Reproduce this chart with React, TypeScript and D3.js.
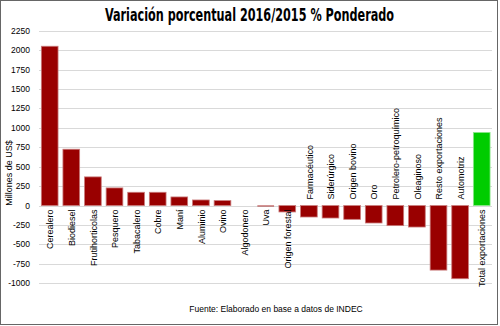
import React from "react";
import * as d3 from "d3";

const categories = [
  "Cerealero", "Biodiesel", "Frutihorticolas", "Pesquero", "Tabacalero", "Cobre", "Maní",
  "Aluminio", "Ovino", "Algodonero", "Uva", "Origen forestal", "Farmacéutico", "Siderúrgico",
  "Origen bovino", "Oro", "Petrolero-petroquímico", "Oleaginoso", "Resto exportaciones",
  "Automotriz", "Total exportaciones",
];
const values = [
  2050, 725, 369, 227, 171, 171, 111, 72, 64, 0, -5, -82, -147, -160, -177, -224, -258, -276,
  -830, -941, 941,
];
const yTicks = [-1000, -750, -500, -250, 0, 250, 500, 750, 1000, 1250, 1500, 1750, 2000, 2250];
const title = "Variación porcentual 2016/2015 % Ponderado";
const yTitle = "Millones de US$";
const source = "Fuente: Elaborado en base a datos de INDEC";

const W = 500, H = 326;

export default function App() {
  const x = d3.scaleBand<string>().domain(categories).range([38.9, 492.5]).paddingInner(0.227).paddingOuter(0.113);
  const y = d3.scaleLinear().domain([-1000, 2250]).range([283.3, 30.7]);
  const y0 = y(0);
  const font = "'Liberation Sans', Arial, sans-serif";
  const last = categories.length - 1;
  return (
    <svg width={W} height={H} style={{ position: "absolute", left: 0, top: 0, background: "#fff" }}>
      <rect x={0} y={0} width={W} height={H} fill="#fff" />
      <rect x={0.5} y={0.5} width={497} height={324} fill="none" stroke="#666" strokeWidth={1} />
      <text x={249.5} y={21} textAnchor="middle" fontFamily="'Liberation Sans Narrow', 'DejaVu Sans Condensed', sans-serif"
        fontWeight="bold" fontSize={17} fill="#000" textLength={289} lengthAdjust="spacingAndGlyphs">{title}</text>
      {yTicks.map((t) => (
        <g key={t}>
          <line x1={39} x2={492} y1={Math.round(y(t)) + 0.5} y2={Math.round(y(t)) + 0.5} stroke="#d9d9d9" strokeWidth={1} />
          <text x={30} y={y(t)} dy="0.35em" textAnchor="end" fontFamily={font} fontSize={8.5} fill="#000">{t}</text>
        </g>
      ))}
      <text transform={`translate(11.5,173) rotate(-90)`} textAnchor="middle" fontFamily={font} fontSize={9} fill="#000">{yTitle}</text>
      {categories.map((c, i) => {
        const v = values[i];
        if (v === 0) return null;
        const top = y(Math.max(0, v));
        const h = Math.abs(y(v) - y0);
        const green = i === last;
        return (
          <rect key={c} x={x(c)} y={top} width={x.bandwidth()} height={Math.max(h, 0.8)}
            fill={green ? "#00cc00" : "#990000"}
            stroke={green ? "#8de88d" : "#c97a7a"} strokeWidth={h > 2 ? 0.8 : 0} />
        );
      })}
      {categories.map((c, i) => {
        const v = values[i];
        const cx = (x(c) as number) + x.bandwidth() / 2 + 0.5;
        const above = v < -100;
        return (
          <text key={c} transform={`translate(${cx},${above ? 199.5 : 209.5}) rotate(-90)`} dy="0.35em"
            textAnchor={above ? "start" : "end"} fontFamily={font} fontSize={9} fill="#000">{c}</text>
        );
      })}
      <text x={276} y={312} textAnchor="middle" fontFamily={font} fontSize={8.5} fill="#000">{source}</text>
    </svg>
  );
}
